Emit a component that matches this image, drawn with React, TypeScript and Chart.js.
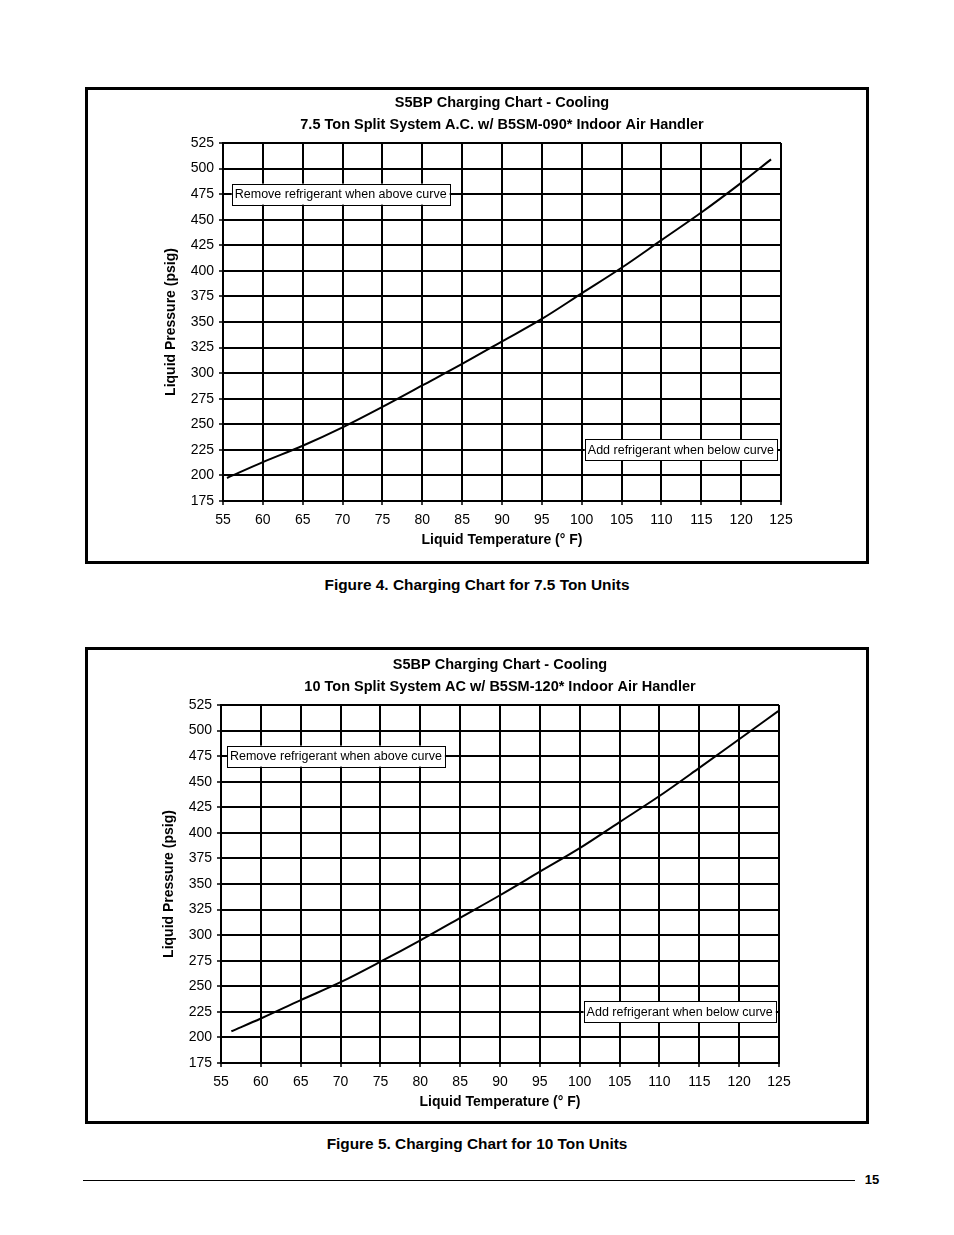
import React, { useEffect, useRef } from "react";
import { Chart, registerables } from "chart.js";

Chart.register(...registerables);

const FONT = "'Liberation Sans', Arial, Helvetica, sans-serif";

// ---- Data ----
const xTicksMin = 55;
const xTicksMax = 125;
const xStep = 5;
const yTicksMin = 175;
const yTicksMax = 525;
const yStep = 25;

const temp75 = [55.5, 60, 65, 70, 75, 80, 85, 90, 95, 100, 105, 110, 115, 120, 123.75];
const press75 = [197.5, 213, 229, 247, 267, 288, 309, 331, 353, 378, 403, 430, 457, 486, 509];

const temp10 = [56.3, 60, 65, 70, 75, 80, 85, 90, 95, 100, 105, 110, 115, 120, 124.9];
const press10 = [206, 218.5, 236.5, 254, 274, 295, 317, 339, 362, 385, 410.5, 436, 463.5, 491.5, 519];

const chartTitle = "S5BP Charging Chart - Cooling";
const subtitle75 = "7.5 Ton Split System A.C. w/ B5SM-090* Indoor Air Handler";
const subtitle10 = "10 Ton Split System AC w/ B5SM-120* Indoor Air Handler";
const xAxisTitle = "Liquid Temperature (° F)";
const yAxisTitle = "Liquid Pressure (psig)";
const noteAbove = "Remove refrigerant when above curve";
const noteBelow = "Add refrigerant when below curve";
const caption75 = "Figure 4. Charging Chart for 7.5 Ton Units";
const caption10 = "Figure 5. Charging Chart for 10 Ton Units";

type Note = { text: string; x: number; y: number; anchor: "left" | "right" };

const notes75: Note[] = [
  { text: noteAbove, x: 56.1, y: 475, anchor: "left" },
  { text: noteBelow, x: 124.5, y: 225, anchor: "right" },
];
const notes10: Note[] = [
  { text: noteAbove, x: 55.75, y: 475, anchor: "left" },
  { text: noteBelow, x: 124.6, y: 225, anchor: "right" },
];

const notePlugin = {
  id: "notes",
  afterDraw(chart: any, _args: any, opts: any) {
    const list: Note[] = opts.items || [];
    const ctx = chart.ctx;
    const xs = chart.scales.x;
    const ys = chart.scales.y;
    const area = chart.chartArea;
    ctx.save();
    // titles centred over the plot area
    const cx = (area.left + area.right) / 2;
    ctx.fillStyle = "#000";
    ctx.textAlign = "center";
    ctx.textBaseline = "middle";
    ctx.font = `bold 14.5px ${FONT}`;
    ctx.fillText(opts.title, cx, 13);
    ctx.fillText(opts.subtitle, cx, 35);

    ctx.font = `12.5px ${FONT}`;
    for (const n of list) {
      const w = ctx.measureText(n.text).width + 6;
      const h = 21;
      const px = xs.getPixelForValue(n.x);
      const py = ys.getPixelForValue(n.y);
      const left = n.anchor === "left" ? px : px - w;
      ctx.fillStyle = "#fff";
      ctx.fillRect(left, py - h / 2, w, h);
      ctx.strokeStyle = "#000";
      ctx.lineWidth = 1;
      ctx.strokeRect(Math.round(left) + 0.5, Math.round(py - h / 2) + 0.5, Math.round(w), h);
      ctx.fillStyle = "#000";
      ctx.textAlign = "left";
      ctx.fillText(n.text, left + 3, py + 0.5);
    }
    ctx.restore();
  },
};

function ChartPanel(props: {
  top: number;
  dx: number;
  dy: number;
  temps: number[];
  press: number[];
  subtitle: string;
  notes: Note[];
  caption: string;
  captionY: number;
}) {
  const ref = useRef<HTMLCanvasElement | null>(null);
  useEffect(() => {
    if (!ref.current) return;
    const points = props.temps.map((t, i) => ({ x: t, y: props.press[i] }));
    const chart = new Chart(ref.current, {
      type: "line",
      data: {
        datasets: [
          {
            data: points,
            borderColor: "#000",
            borderWidth: 2,
            pointRadius: 0,
            cubicInterpolationMode: "monotone",
            fill: false,
          },
        ],
      },
      plugins: [notePlugin],
      options: {
        animation: false,
        responsive: false,
        devicePixelRatio: 1,
        layout: { padding: { left: 70, right: 85, top: 53, bottom: 10 } },
        plugins: {
          legend: { display: false },
          tooltip: { enabled: false },
          title: { display: false },
          notes: { items: props.notes, title: chartTitle, subtitle: props.subtitle },
        } as any,
        scales: {
          x: {
            type: "linear",
            min: xTicksMin,
            max: xTicksMax,
            afterFit: (s: any) => {
              s.height = 50;
            },
            ticks: {
              stepSize: xStep,
              color: "#000",
              font: { family: FONT, size: 14 },
              padding: 7,
              maxRotation: 0,
              autoSkip: false,
            },
            grid: { color: "#000", lineWidth: 2, tickLength: 4, tickWidth: 1.5, tickColor: "#000" },
            border: { color: "#000", width: 2 },
            title: {
              display: true,
              text: xAxisTitle,
              color: "#000",
              font: { family: FONT, size: 14, weight: "bold" },
              padding: { top: 0, bottom: 2.6 },
            },
          },
          y: {
            type: "linear",
            min: yTicksMin,
            max: yTicksMax,
            afterFit: (s: any) => {
              s.width = 65;
            },
            ticks: {
              stepSize: yStep,
              color: "#000",
              font: { family: FONT, size: 14 },
              padding: 5,
              autoSkip: false,
            },
            grid: { color: "#000", lineWidth: 2, tickLength: 4, tickWidth: 1.5, tickColor: "#000" },
            border: { color: "#000", width: 2 },
            title: {
              display: true,
              text: yAxisTitle,
              color: "#000",
              font: { family: FONT, size: 14, weight: "bold" },
              padding: { top: 4.6, bottom: 0 },
            },
          },
        },
      } as any,
    });
    return () => chart.destroy();
  }, []);

  return (
    <>
      <div
        style={{
          position: "absolute",
          left: 85,
          top: props.top,
          width: 778,
          height: 471,
          border: "3px solid #000",
        }}
      />
      <canvas
        ref={ref}
        width={778}
        height={471}
        style={{
          position: "absolute",
          left: 88 + props.dx,
          top: props.top + 3 + props.dy,
          width: 778,
          height: 471,
        }}
      />
      <div
        style={{
          position: "absolute",
          left: 0,
          width: 954,
          top: props.captionY - 10,
          height: 20,
          lineHeight: "20px",
          textAlign: "center",
          fontFamily: FONT,
          fontWeight: "bold",
          fontSize: 15.4,
          color: "#000",
        }}
      >
        {props.caption}
      </div>
    </>
  );
}

export default function App() {
  useEffect(() => {
    document.body.style.margin = "0";
    document.body.style.overflow = "hidden";
  }, []);
  return (
    <div
      style={{
        position: "absolute",
        left: 0,
        top: 0,
        width: 954,
        height: 1235,
        background: "#fff",
        overflow: "hidden",
      }}
    >
      <ChartPanel
        top={87}
        dx={0}
        dy={0}
        temps={temp75}
        press={press75}
        subtitle={subtitle75}
        notes={notes75}
        caption={caption75}
        captionY={585}
      />
      <ChartPanel
        top={647}
        dx={-2}
        dy={2}
        temps={temp10}
        press={press10}
        subtitle={subtitle10}
        notes={notes10}
        caption={caption10}
        captionY={1144}
      />
      <div
        style={{
          position: "absolute",
          left: 83,
          top: 1180,
          width: 772,
          height: 1,
          background: "#000",
        }}
      />
      <div
        style={{
          position: "absolute",
          left: 860,
          top: 1171,
          width: 24,
          height: 18,
          lineHeight: "18px",
          fontFamily: FONT,
          fontWeight: "bold",
          fontSize: 13,
          color: "#000",
          textAlign: "center",
        }}
      >
        15
      </div>
    </div>
  );
}
